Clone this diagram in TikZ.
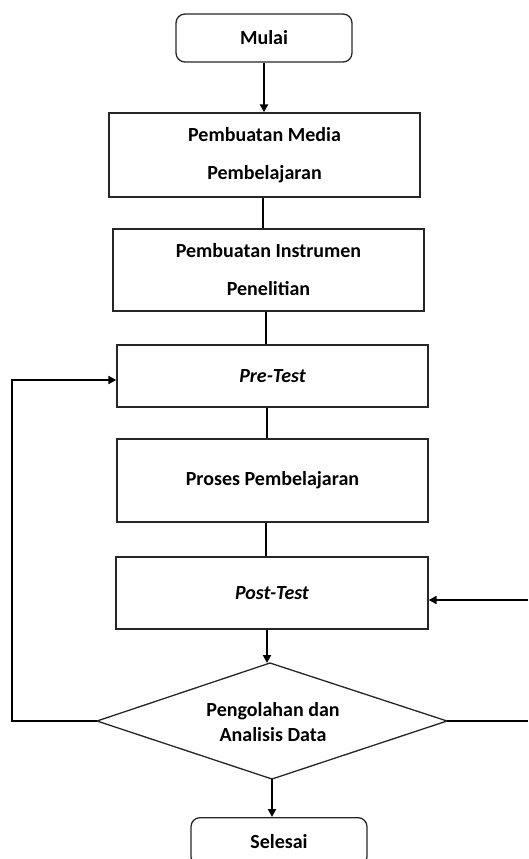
\documentclass[tikz,border=0pt]{standalone}
\usepackage{fontspec}
\setmainfont{Carlito}
\usetikzlibrary{arrows.meta}
\begin{document}
\begin{tikzpicture}[x=1pt,y=-1pt,
  box/.style={draw=black!85,line width=1.3pt,rectangle,inner sep=0pt,font=\bfseries\fontsize{20}{38}\selectfont,align=center},
  term/.style={draw=black!85,line width=1.3pt,rectangle,rounded corners=9pt,inner sep=0pt,minimum width=176pt,minimum height=48pt,font=\bfseries\fontsize{20}{23}\selectfont},
  dectext/.style={inner sep=0pt,font=\bfseries\fontsize{20}{25}\selectfont,align=center},
  decline/.style={draw=black!85,line width=1.3pt},
  conn/.style={line width=2pt},
  arr/.style={line width=2pt,-{Triangle[length=8pt,width=8pt]}}]
\useasboundingbox (0,0) rectangle (528,859);
\clip (0,0) rectangle (528,859);
\node[term] (mulai) at (264,38) {Mulai};
\node[box,minimum width=311pt,minimum height=84pt] (b1) at (264.5,155) {Pembuatan Media\\Pembelajaran};
\node[box,minimum width=311pt,minimum height=82pt] (b2) at (268.5,270) {Pembuatan Instrumen\\Penelitian};
\node[box,minimum width=311pt,minimum height=62pt] (pre) at (272.5,376) {\itshape Pre-Test};
\node[box,minimum width=311pt,minimum height=83pt] (pro) at (272.5,480.5) {Proses Pembelajaran};
\node[box,minimum width=312pt,minimum height=72pt] (post) at (272,593) {\itshape Post-Test};
\coordinate (dN) at (270,663);
\coordinate (dS) at (272,779);
\coordinate (dW) at (97,721);
\coordinate (dE) at (447,721);
\draw[decline] (dN) -- (dE) -- (dS) -- (dW) -- cycle;
\node[dectext] (diam) at (273,722) {Pengolahan dan\\Analisis Data};
\node[term,anchor=north] (sel) at (279,817) {Selesai};
\coordinate (loopL) at (12,380);
\coordinate (rA) at (528,721);
\coordinate (rB) at (528,600);
\draw[arr] (mulai.south) -- (mulai.south |- b1.north);
\draw[conn] (263,0 |- b1.south) -- (263,0 |- b2.north);
\draw[conn] (266,0 |- b2.south) -- (266,0 |- pre.north);
\draw[conn] (267,0 |- pre.south) -- (267,0 |- pro.north);
\draw[conn] (266,0 |- pro.south) -- (266,0 |- post.north);
\draw[arr] (267,0 |- post.south) -- (267,0 |- dN);
\draw[arr] (dS) -- (dS |- sel.north);
\draw[arr] (dW) -| (loopL) -- (loopL -| pre.west);
\draw[conn] (dE) -- (rA);
\draw[arr] (rB) -- (rB -| post.east);
\end{tikzpicture}
\end{document}
